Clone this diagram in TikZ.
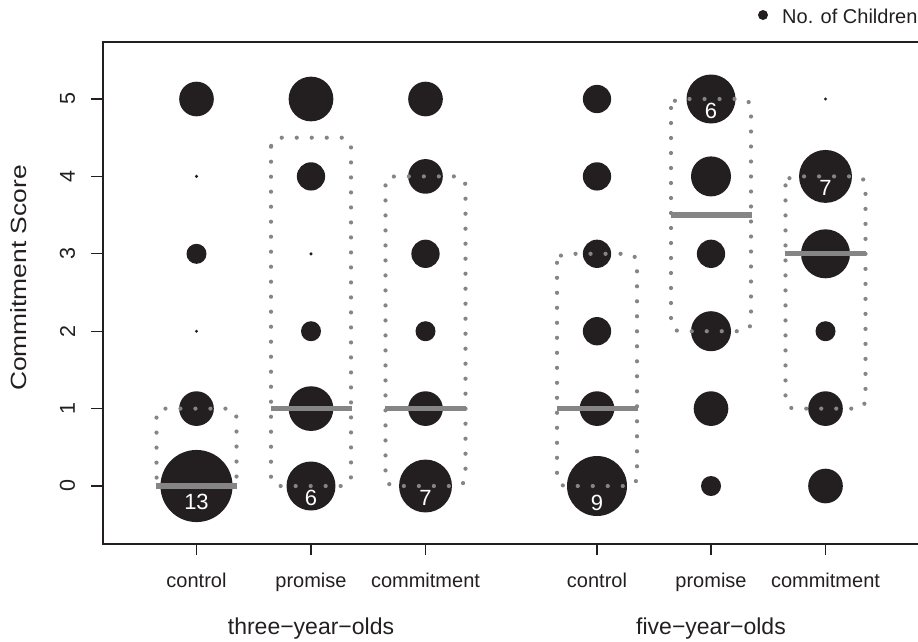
\documentclass[tikz,border=0pt]{standalone}
\usepackage{fontspec}
\setmainfont{Liberation Sans}
\definecolor{bubblec}{HTML}{231F20}
\definecolor{dotc}{HTML}{858585}
\definecolor{medc}{HTML}{858585}
\definecolor{framec}{HTML}{231F20}
\newcommand\mybub[4]{%
  \pgfmathsetmacro\dd{(#4==0)?3.4:20*sqrt(#4)}%
  \node[bubble,minimum size=\dd pt] (#1) at (#2,{486-77.4*#3}) {};}
\newcommand\myiqr[3]{%
  \draw[iqr] ({#1-40},{486-77.4*#3}) rectangle ({#1+40},{486-77.4*#2});}
\newcommand\mymed[2]{%
  \draw[medline] ({#1-40.5},{486-77.4*#2}) -- ({#1+40.5},{486-77.4*#2});}
\tikzset{
  bubble/.style={circle,fill=bubblec,draw=none,inner sep=0pt},
  iqr/.style={draw=dotc,line width=4.2pt,line cap=round,dash pattern=on 0pt off 15pt,rounded corners=9pt},
  medline/.style={draw=medc,line width=5.3pt},
  frameline/.style={draw=framec,line width=1.5pt},
  tickline/.style={draw=framec,line width=1.2pt},
  ticklab/.style={font=\fontsize{20}{24}\selectfont,text=framec,inner sep=0pt},
  ynum/.style={font=\fontsize{21.5}{25}\selectfont,text=framec,inner sep=0pt},
  grouplab/.style={font=\fontsize{23}{27}\selectfont,text=framec,inner sep=0pt},
  countlab/.style={font=\fontsize{22}{26}\selectfont,text=white,inner sep=0pt},
}
\begin{document}
\begin{tikzpicture}[x=1pt,y=-1pt]
\useasboundingbox (0,0) rectangle (918,641);
% bubbles: three-year-olds control
\mybub{a0}{196.5}{0}{13}
\mybub{a1}{196.5}{1}{3}
\mybub{a2}{196.5}{2}{0}
\mybub{a3}{196.5}{3}{1}
\mybub{a4}{196.5}{4}{0}
\mybub{a5}{196.5}{5}{3}
% three promise
\mybub{b0}{311}{0}{6}
\mybub{b1}{311}{1}{5}
\mybub{b2}{311}{2}{1}
\mybub{b3}{311}{3}{0}
\mybub{b4}{311}{4}{2}
\mybub{b5}{311}{5}{5}
% three commitment
\mybub{c0}{425.5}{0}{7}
\mybub{c1}{425.5}{1}{3}
\mybub{c2}{425.5}{2}{1}
\mybub{c3}{425.5}{3}{2}
\mybub{c4}{425.5}{4}{3}
\mybub{c5}{425.5}{5}{3}
% five control
\mybub{d0}{597}{0}{9}
\mybub{d1}{597}{1}{3}
\mybub{d2}{597}{2}{2}
\mybub{d3}{597}{3}{2}
\mybub{d4}{597}{4}{2}
\mybub{d5}{597}{5}{2}
% five promise
\mybub{e0}{711}{0}{1}
\mybub{e1}{711}{1}{3}
\mybub{e2}{711}{2}{4}
\mybub{e3}{711}{3}{2}
\mybub{e4}{711}{4}{4}
\mybub{e5}{711}{5}{6}
% five commitment
\mybub{f0}{825.5}{0}{3}
\mybub{f1}{825.5}{1}{3}
\mybub{f2}{825.5}{2}{1}
\mybub{f3}{825.5}{3}{6}
\mybub{f4}{825.5}{4}{7}
\mybub{f5}{825.5}{5}{0}
% interquartile boxes
\myiqr{196.5}{0}{1}
\myiqr{311}{0}{4.5}
\myiqr{425.5}{0}{4}
\myiqr{597}{0}{3}
\myiqr{711}{2}{5}
\myiqr{825.5}{1}{4}
% medians
\mymed{196.5}{0}
\mymed{311}{1}
\mymed{425.5}{1}
\mymed{597}{1}
\mymed{711}{3.5}
\mymed{825.5}{3}
% counts
\node[countlab] (na) at (196.5,501.7) {13};
\node[countlab] (nb) at (311,497.8) {6};
\node[countlab] (nc) at (425.5,497.8) {7};
\node[countlab] (nd) at (597,502.5) {9};
\node[countlab] (ne) at (711,111) {6};
\node[countlab] (nf) at (825.5,187.8) {7};
% frame
\draw[frameline] (918,42) -- (103,42) -- (103,544) -- (918,544);
% y ticks
\foreach \v in {0,...,5}{
  \draw[tickline] (91,{486-77.4*\v}) -- (103,{486-77.4*\v});
  \node[ynum,rotate=90] (yl\v) at (67.5,{486-77.4*\v}) {\v};
}
\node[ticklab,font=\fontsize{22}{26}\selectfont,rotate=90] (ylab) at (18.5,278) {\scalebox{1.2}[1]{Commitment Score}};
% x ticks and labels
\foreach \x/\t/\nm in {196.5/control/xa,311/promise/xb,425.5/commitment/xc,597/control/xd,711/promise/xe,825.5/commitment/xf}{
  \draw[tickline] (\x,544) -- (\x,555);
  \node[ticklab,anchor=base] (\nm) at (\x,587) {\t};
}
\node[grouplab,anchor=base] (g3) at (311,634) {three−year−olds};
\node[grouplab,anchor=base] (g5) at (711,634) {five−year−olds};
% legend
\node[bubble,minimum size=10pt] (legdot) at (763,15) {};
\node[ticklab,anchor=base west] (legtext) at (782,23) {No. of Children};
\end{tikzpicture}
\end{document}
